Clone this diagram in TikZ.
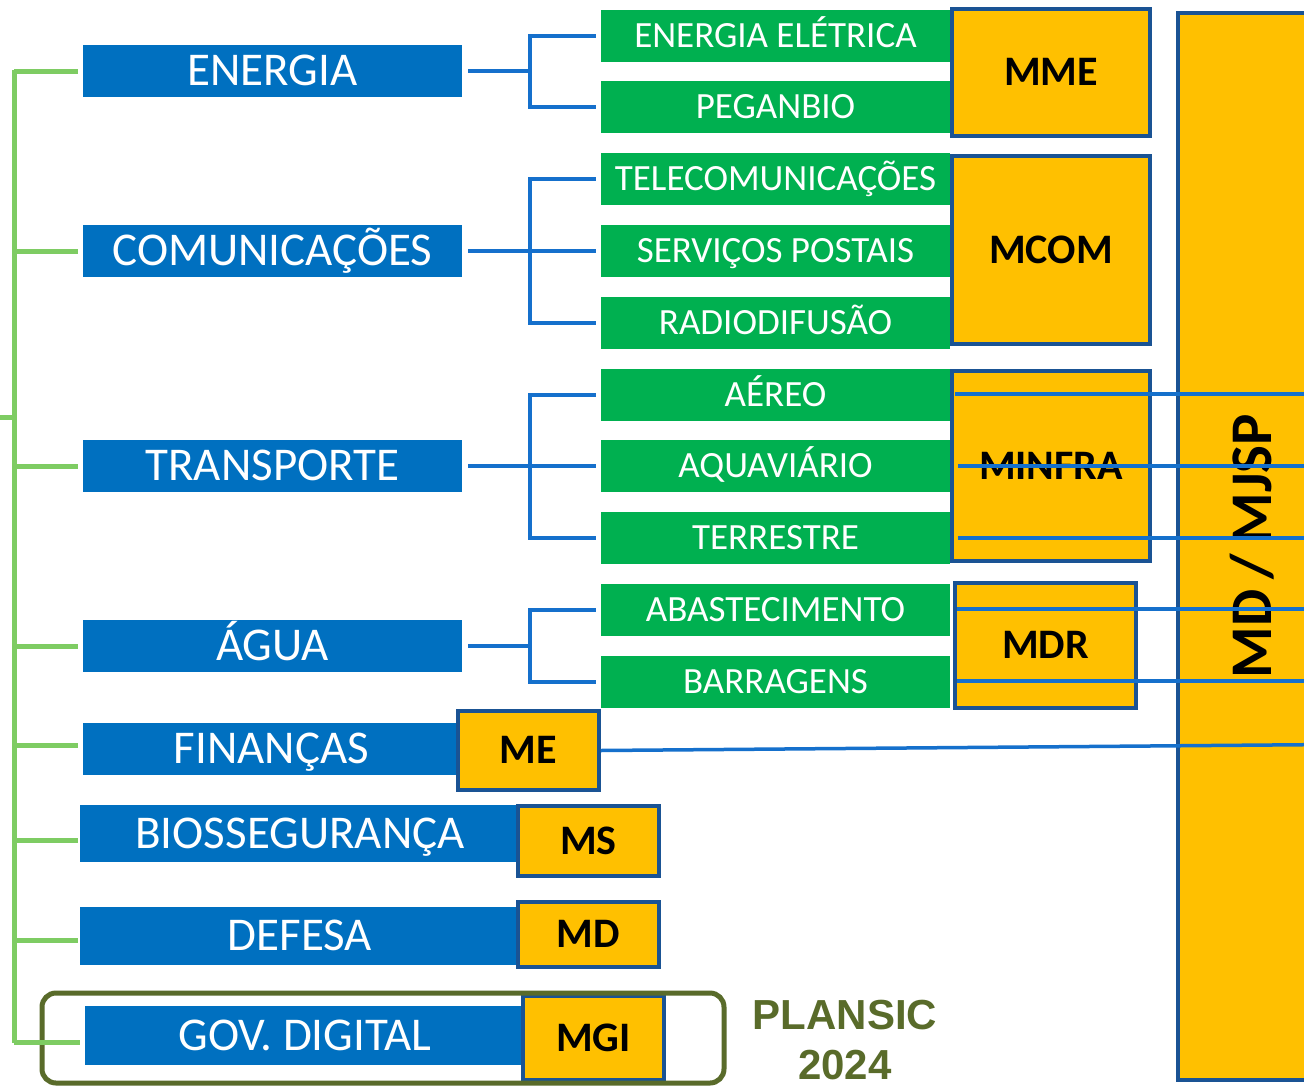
\documentclass[tikz,border=0pt]{standalone}
\usepackage{fontspec}
\setmainfont{Carlito}
\newfontfamily\arialfont{Liberation Sans}
\definecolor{catblue}{HTML}{0070C0}
\definecolor{subgreen}{HTML}{00B050}
\definecolor{minyellow}{HTML}{FFC000}
\definecolor{edgeblue}{HTML}{1A5394}
\definecolor{lineblue}{HTML}{1570CC}
\definecolor{treegreen}{HTML}{7ECC63}
\definecolor{olive}{HTML}{596B2A}
\tikzset{
  cat/.style={fill=catblue, text=white, inner sep=0pt, minimum height=52pt,
    text height=29.7pt, text depth=0pt,
    font=\fontsize{47}{50}\selectfont},
  sub/.style={fill=subgreen, text=white, inner sep=0pt, minimum width=349pt,
    minimum height=52pt, text height=23.4pt, text depth=0pt,
    font=\fontsize{37}{40}\selectfont},
  mins/.style={fill=minyellow, draw=edgeblue, line width=3.5pt, inner sep=0pt,
    text height=26.5pt, text depth=0pt,
    text=black, font=\fontsize{42}{44}\selectfont\bfseries},
  bl/.style={draw=lineblue, line width=4pt},
  cross/.style={draw=lineblue, line width=3.5pt},
  gr/.style={draw=treegreen, line width=5pt},
}
\begin{document}
\begin{tikzpicture}[x=1pt,y=-1pt]
\clip (0,0) rectangle (1304,1087);
\fill[white] (0,0) rectangle (1304,1087);

% big bar
\node[mins, minimum width=154pt, minimum height=1067pt] (bar) at (1255,546.5) {};
\node[rotate=90, font=\fontsize{59}{60}\selectfont\bfseries] (bartext) at (1252,546) {MD\,/\,MJSP};

% categories
\node[cat, minimum width=379pt] (energia) at (272.5,71) {ENERGIA};
\node[cat, minimum width=379pt] (comun) at (272.5,251) {COMUNICAÇÕES};
\node[cat, minimum width=379pt] (transp) at (272.5,466) {TRANSPORTE};
\node[cat, minimum width=379pt] (agua) at (272.5,646) {ÁGUA};
\node[cat, minimum width=377pt] (finan) at (271.5,749) {FINANÇAS};
\node[cat, minimum width=440pt, minimum height=57pt] (bio) at (300,833.5) {BIOSSEGURANÇA};
\node[cat, minimum width=440pt, minimum height=58pt] (def) at (300,936) {DEFESA};
\node[cat, minimum width=440pt, minimum height=59pt] (gov) at (305,1035.5) {GOV. DIGITAL};

% sub items
\node[sub] (ee) at (775.5,35.5) {ENERGIA ELÉTRICA};
\node[sub] (peg) at (775.5,107) {PEGANBIO};
\node[sub] (tel) at (775.5,179) {TELECOMUNICAÇÕES};
\node[sub] (post) at (775.5,251) {SERVIÇOS POSTAIS};
\node[sub] (radio) at (775.5,323) {RADIODIFUSÃO};
\node[sub] (aereo) at (775.5,394.5) {AÉREO};
\node[sub] (aqua) at (775.5,466) {AQUAVIÁRIO};
\node[sub] (terr) at (775.5,538) {TERRESTRE};
\node[sub] (abast) at (775.5,610) {ABASTECIMENTO};
\node[sub] (barr) at (775.5,682) {BARRAGENS};

% ministries
\node[mins, minimum width=198pt, minimum height=127pt] (mme) at (1051,72.5) {MME};
\node[mins, minimum width=198pt, minimum height=188pt] (mcom) at (1051,250) {MCOM};
\node[mins, minimum width=198pt, minimum height=190pt] (minfra) at (1051,466) {MINFRA};
\node[mins, minimum width=181pt, minimum height=125pt] (mdr) at (1045.5,645.5) {MDR};
\node[mins, minimum width=141pt, minimum height=79pt] (me) at (528.5,750.5) {ME};
\node[mins, minimum width=141pt, minimum height=70pt] (ms) at (588.5,841) {MS};
\node[mins, minimum width=141pt, minimum height=65pt] (md) at (588.5,934.5) {MD};
\node[mins, minimum width=141pt, minimum height=84pt] (mgi) at (593.5,1038) {MGI};

% PLANSIC frame and label
\draw[olive, line width=5pt, rounded corners=14pt] (42,993) rectangle (724,1083);
\node[text=olive, align=center, font=\arialfont\bfseries\fontsize{42}{50}\selectfont] (plansic) at (845,1040) {PLANSIC\\2024};

% green tree
\coordinate (gtop) at (14,70);
\coordinate (gbot) at (14,1043);
\coordinate (groot) at (0,417);
\draw[gr] (gtop) -- (gbot);
\draw[gr] (groot) -- (14,417);
\draw[gr] (14,71) -- ([xshift=-5pt]energia.west);
\draw[gr] (14,251) -- ([xshift=-5pt]comun.west);
\draw[gr] (14,466) -- ([xshift=-5pt]transp.west);
\draw[gr] (14,646) -- ([xshift=-5pt]agua.west);
\draw[gr] (14,745) -- ([xshift=-5pt,yshift=4pt]finan.west);
\draw[gr] (14,840) -- ([xshift=-2pt,yshift=-6.5pt]bio.west);
\draw[gr] (14,940) -- ([xshift=-2pt,yshift=-4pt]def.west);
\draw[gr] (14,1042) -- ([xshift=-5pt,yshift=-6.5pt]gov.west);

% blue trees
\draw[bl] ([xshift=6pt]energia.east) -- ++(62,0) coordinate (ej);
\draw[bl] (ej) |- ([xshift=-5pt]ee.west);
\draw[bl] (ej) |- ([xshift=-5pt]peg.west);

\draw[bl] ([xshift=6pt]comun.east) -- ++(62,0) coordinate (cj);
\draw[bl] (cj) |- ([xshift=-5pt]tel.west);
\draw[bl] (cj) -- ([xshift=-5pt]post.west);
\draw[bl] (cj) |- ([xshift=-5pt]radio.west);

\draw[bl] ([xshift=6pt]transp.east) -- ++(62,0) coordinate (tj);
\draw[bl] (tj) |- ([xshift=-5pt]aereo.west);
\draw[bl] (tj) -- ([xshift=-5pt]aqua.west);
\draw[bl] (tj) |- ([xshift=-5pt]terr.west);

\draw[bl] ([xshift=6pt]agua.east) -- ++(62,0) coordinate (aj);
\draw[bl] (aj) |- ([xshift=-5pt]abast.west);
\draw[bl] (aj) |- ([xshift=-5pt]barr.west);

% crossing lines to the MD / MJSP bar
\coordinate (x1) at (955,394);
\coordinate (x2) at (958,466);
\coordinate (x3) at (958,538);
\coordinate (x4) at (957,609);
\coordinate (x5) at (957,681);
\coordinate (meend) at (1332,744.5);
\draw[cross] (x1) -- (bar.east |- x1);
\draw[cross] (x2) -- (bar.east |- x2);
\draw[cross] (x3) -- (bar.east |- x3);
\draw[cross] (x4) -- (bar.east |- x4);
\draw[cross] (x5) -- (bar.east |- x5);
\draw[cross] (me.east) -- (meend);
\end{tikzpicture}
\end{document}
